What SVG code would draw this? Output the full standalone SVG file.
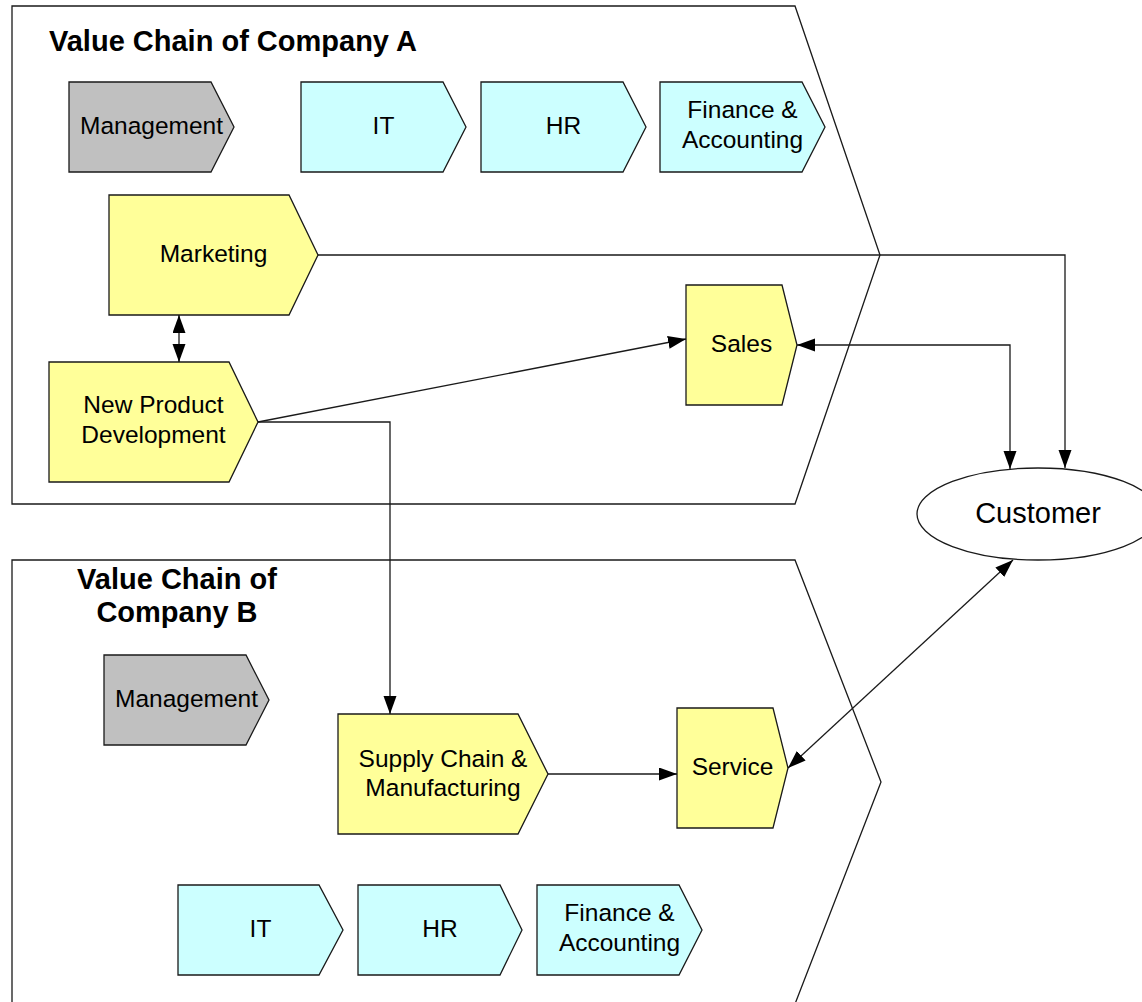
<svg xmlns="http://www.w3.org/2000/svg" width="1142" height="1002" viewBox="0 0 1142 1002">
  <style>
    .frame { fill: none; stroke: #1a1a1a; stroke-width: 1.3; }
    .node { stroke: #1a1a1a; stroke-width: 1.3; }
    .mgmt { fill: #C0C0C0; }
    .support { fill: #CCFFFF; }
    .core { fill: #FFFF99; }
    .cust { fill: #FFFFFF; }
    .lbl { font-family: "Liberation Sans", Arial, sans-serif; font-size: 24.5px; fill: #000; text-anchor: middle; }
    .cust-lbl { font-size: 29px; }
    .title { font-family: "Liberation Sans", Arial, sans-serif; font-size: 29px; font-weight: bold; fill: #000; }
    .conn { fill: none; stroke: #1a1a1a; stroke-width: 1.3; }
  </style>
  <defs>
    <marker id="arrow" markerUnits="userSpaceOnUse" markerWidth="19" markerHeight="14" refX="18" refY="6.5" orient="auto-start-reverse">
      <path d="M0,0 L18,6.5 L0,13 Z" fill="#000"/>
    </marker>
  </defs>

  <rect x="0" y="0" width="1142" height="1002" fill="#fff"/>

  <!-- Company frames -->
  <g id="frame-a">
    <polygon class="frame" points="12,6 795,6 880,255 795,504 12,504"/>
    <text class="title" x="49" y="51">Value Chain of Company A</text>
  </g>
  <g id="frame-b">
    <polygon class="frame" points="12,560 795,560 881,782 795,1004 12,1004"/>
    <text class="title" x="177" y="589" text-anchor="middle">Value Chain of</text>
    <text class="title" x="177" y="622" text-anchor="middle">Company B</text>
  </g>

  <!-- Company A nodes -->
  <g id="a-management">
    <path class="node mgmt" d="M69,82 H211 L234,127 L211,172 H69 Z"/>
    <text class="lbl" x="151.5" y="134">Management</text>
  </g>
  <g id="a-it">
    <path class="node support" d="M301,82 H443 L466,127 L443,172 H301 Z"/>
    <text class="lbl" x="383.5" y="134">IT</text>
  </g>
  <g id="a-hr">
    <path class="node support" d="M481,82 H623 L646,127 L623,172 H481 Z"/>
    <text class="lbl" x="563.5" y="134">HR</text>
  </g>
  <g id="a-finance">
    <path class="node support" d="M660,82 H802 L825,127 L802,172 H660 Z"/>
    <text class="lbl" x="742.5" y="118">Finance &amp;</text>
    <text class="lbl" x="742.5" y="148">Accounting</text>
  </g>
  <g id="a-marketing">
    <path class="node core" d="M109,195 H289 L318,255 L289,315 H109 Z"/>
    <text class="lbl" x="213.5" y="262">Marketing</text>
  </g>
  <g id="a-npd">
    <path class="node core" d="M49,362 H229 L258,422 L229,482 H49 Z"/>
    <text class="lbl" x="153.5" y="413">New Product</text>
    <text class="lbl" x="153.5" y="443">Development</text>
  </g>
  <g id="a-sales">
    <path class="node core" d="M686,285 H782 L797,345 L782,405 H686 Z"/>
    <text class="lbl" x="741.5" y="352">Sales</text>
  </g>

  <!-- Company B nodes -->
  <g id="b-management">
    <path class="node mgmt" d="M104,655 H246 L269,700 L246,745 H104 Z"/>
    <text class="lbl" x="186.5" y="707">Management</text>
  </g>
  <g id="b-supply">
    <path class="node core" d="M338,714 H518 L548,774 L518,834 H338 Z"/>
    <text class="lbl" x="443" y="767">Supply Chain &amp;</text>
    <text class="lbl" x="443" y="796">Manufacturing</text>
  </g>
  <g id="b-service">
    <path class="node core" d="M677,708 H773 L788,768 L773,828 H677 Z"/>
    <text class="lbl" x="732.5" y="775">Service</text>
  </g>
  <g id="b-it">
    <path class="node support" d="M178,885 H319 L343,930 L319,975 H178 Z"/>
    <text class="lbl" x="260.5" y="937">IT</text>
  </g>
  <g id="b-hr">
    <path class="node support" d="M358,885 H500 L522,930 L500,975 H358 Z"/>
    <text class="lbl" x="440" y="937">HR</text>
  </g>
  <g id="b-finance">
    <path class="node support" d="M537,885 H679 L702,930 L679,975 H537 Z"/>
    <text class="lbl" x="619.5" y="921">Finance &amp;</text>
    <text class="lbl" x="619.5" y="951">Accounting</text>
  </g>

  <!-- Customer -->
  <g id="customer">
    <ellipse class="node cust" cx="1038" cy="514" rx="121" ry="46"/>
    <text class="lbl cust-lbl" x="1038" y="523">Customer</text>
  </g>

  <!-- Connectors -->
  <g id="connectors">
    <path class="conn" d="M318,255 H1065 V468" marker-end="url(#arrow)"/>
    <path class="conn" d="M797,345 H1010 V469" marker-start="url(#arrow)" marker-end="url(#arrow)"/>
    <path class="conn" d="M179,315 V362" marker-start="url(#arrow)" marker-end="url(#arrow)"/>
    <path class="conn" d="M258,422 L686,339" marker-end="url(#arrow)"/>
    <path class="conn" d="M258,422 H390 V714" marker-end="url(#arrow)"/>
    <path class="conn" d="M548,774 H677" marker-end="url(#arrow)"/>
    <path class="conn" d="M1013,560 L788,768" marker-start="url(#arrow)" marker-end="url(#arrow)"/>
  </g>
</svg>
